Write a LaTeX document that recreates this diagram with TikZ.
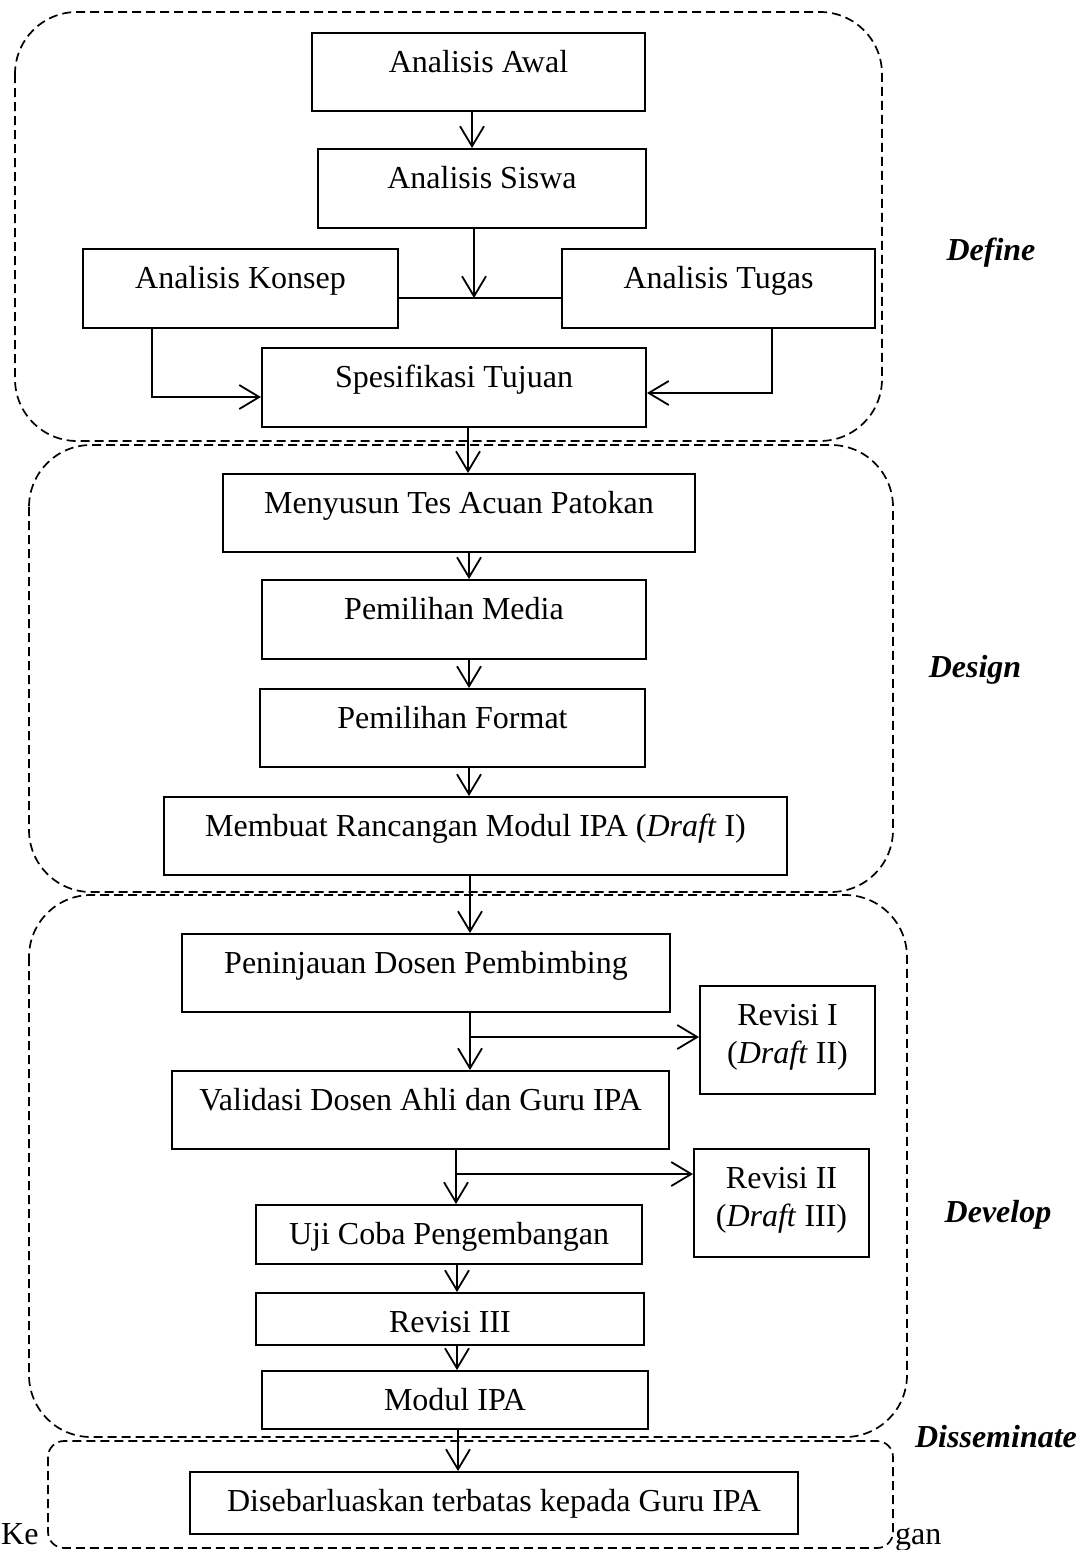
\documentclass[tikz,border=0pt]{standalone}
\usepackage{fontspec}
\setmainfont{Liberation Serif}
\usetikzlibrary{arrows.meta}
\begin{document}
\begin{tikzpicture}[x=1pt,y=-1pt,
  box/.style={draw, line width=2pt, fill=white, inner xsep=0pt, inner ysep=0pt,
    text height=39pt, anchor=north, font=\fontsize{32}{38}\selectfont},
  grp/.style={draw, line width=1.7pt, dash pattern=on 9pt off 5pt, rounded corners=62pt},
  arr/.style={line width=1.8pt, -{Straight Barb[length=20pt,width=24pt]}},
  ln/.style={line width=1.8pt},
  phase/.style={font=\fontsize{32}{38}\selectfont\bfseries\itshape, anchor=base, inner sep=0pt},
  captext/.style={font=\fontsize{32}{38}\selectfont, anchor=base west, inner sep=0pt}]
\useasboundingbox (0,0) rectangle (1085,1550);

% caption fragments
\node[captext] (capL) at (1,1544) {Ke};
\node[captext] (capR) at (895,1544) {gan};

% phase groups
\draw[grp] (15,12) rectangle (882,441);
\draw[grp] (29,445) rectangle (893,892);
\draw[grp] (29,895) rectangle (907,1437);
\draw[grp, rounded corners=16pt, fill=white] (48,1441) rectangle (893,1548);

% phase labels
\node[phase] (lDefine) at (991,260) {Define};
\node[phase] (lDesign) at (975,677) {Design};
\node[phase] (lDevelop) at (998,1222) {Develop};
\node[phase] (lDiss) at (996,1447) {Disseminate};

% define
\node[box, minimum width=333pt, text depth=39pt] (awal) at (478.5,32) {Analisis Awal};
\node[box, minimum width=328pt, text depth=40pt] (siswa) at (482,148) {Analisis Siswa};
\node[box, minimum width=315pt, text depth=40pt] (konsep) at (240.5,248) {Analisis Konsep};
\node[box, minimum width=313pt, text depth=40pt] (tugas) at (718.5,248) {Analisis Tugas};
\node[box, minimum width=384pt, text depth=40pt] (spes) at (454,347) {Spesifikasi Tujuan};

% design
\node[box, minimum width=472pt, text depth=39pt] (menyusun) at (459,473) {Menyusun Tes Acuan Patokan};
\node[box, minimum width=384pt, text depth=40pt] (media) at (454,579) {Pemilihan Media};
\node[box, minimum width=385pt, text depth=39pt] (format) at (452.5,688) {Pemilihan Format};
\node[box, minimum width=623pt, text depth=39pt] (membuat) at (475.5,796) {Membuat Rancangan Modul IPA (\textit{Draft} I)};

% develop
\node[box, minimum width=488pt, text depth=39pt] (peninjauan) at (426,933) {Peninjauan Dosen Pembimbing};
\node[box, minimum width=175pt, text depth=69pt] (rev1) at (787.5,985)
  {\begin{tabular}[t]{@{}c@{}}Revisi I\\(\textit{Draft} II)\end{tabular}};
\node[box, minimum width=497pt, text depth=39pt] (validasi) at (420.5,1070) {Validasi Dosen Ahli dan Guru IPA};
\node[box, minimum width=175pt, text depth=69pt] (rev2) at (781.5,1148)
  {\begin{tabular}[t]{@{}c@{}}Revisi II\\(\textit{Draft} III)\end{tabular}};
\node[box, minimum width=386pt, text depth=20pt] (uji) at (449,1204) {Uji Coba Pengembangan};
\node[box, minimum width=388pt, text depth=13pt] (rev3) at (450,1292) {Revisi III};
\node[box, minimum width=386pt, text depth=19pt] (modul) at (455,1370) {Modul IPA};

% disseminate
\node[box, minimum width=608pt, text depth=23pt] (disebar) at (494,1471) {Disebarluaskan terbatas kepada Guru IPA};

% connectors: define
\coordinate (j1) at (474,298);
\coordinate (jl) at (152,397);
\coordinate (jr) at (772,393);
\draw[arr] (awal.south -| 472,0) -- (siswa.north -| 472,0);
\draw[arr] (siswa.south -| j1) -- (j1);
\draw[ln] (konsep.east |- j1) -- (tugas.west |- j1);
\draw[arr] (konsep.south -| jl) |- (spes.west |- jl);
\draw[arr] (tugas.south -| jr) |- (spes.east |- jr);
\draw[arr] (spes.south -| 468,0) -- (menyusun.north -| 468,0);

% connectors: design
\draw[arr] (menyusun.south -| 469,0) -- (media.north -| 469,0);
\draw[arr] (media.south -| 469,0) -- (format.north -| 469,0);
\draw[arr] (format.south -| 469,0) -- (membuat.north -| 469,0);
\draw[arr] (membuat.south -| 470,0) -- (peninjauan.north -| 470,0);

% connectors: develop
\coordinate (b1) at (470,1037);
\coordinate (b2) at (456,1174);
\draw[arr] (peninjauan.south -| b1) -- (validasi.north -| b1);
\draw[arr] (b1) -- (rev1.west |- b1);
\draw[arr] (validasi.south -| b2) -- (uji.north -| b2);
\draw[arr] (b2) -- (rev2.west |- b2);
\draw[arr] (uji.south -| 457,0) -- (rev3.north -| 457,0);
\draw[arr] (rev3.south -| 457,0) -- (modul.north -| 457,0);
\draw[arr] (modul.south -| 458,0) -- (disebar.north -| 458,0);
\end{tikzpicture}
\end{document}
